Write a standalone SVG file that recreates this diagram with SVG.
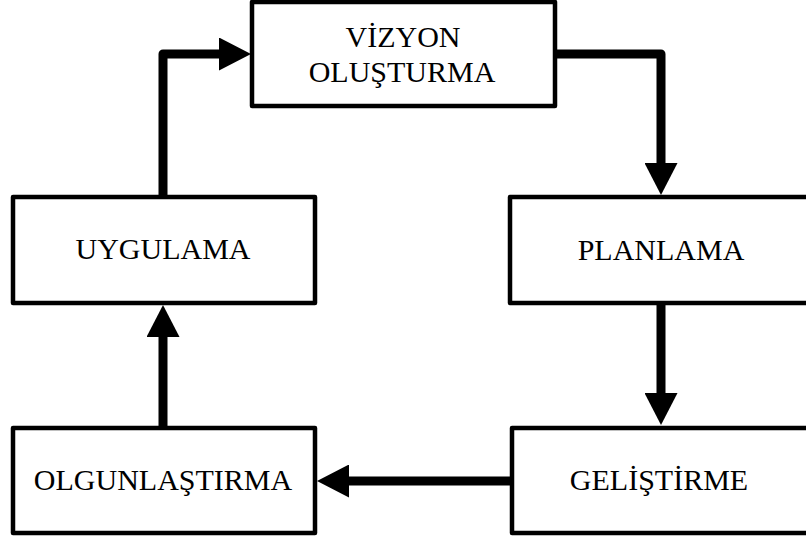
<svg xmlns="http://www.w3.org/2000/svg" width="806" height="539" viewBox="0 0 806 539">
  <style>
    .box { fill: #fff; stroke: #000; stroke-width: 4.5; stroke-linejoin: round; }
    .label { font-family: "Liberation Serif", "Times New Roman", serif; font-size: 30px; fill: #000; text-anchor: middle; }
    .flow { fill: none; stroke: #000; stroke-width: 9; stroke-linecap: round; stroke-linejoin: round; }
  </style>
  <defs>
    <marker id="head" viewBox="0 0 32 33" refX="0" refY="16.5" markerWidth="32" markerHeight="33" markerUnits="userSpaceOnUse" orient="auto">
      <path d="M0,0 L32,16.5 L0,33 Z" fill="#000"/>
    </marker>
  </defs>
  <rect width="806" height="539" fill="#fff"/>

  <g id="connectors">
    <path class="flow" d="M555,54 H661 V163" marker-end="url(#head)"/>
    <path class="flow" d="M661,303 V393" marker-end="url(#head)"/>
    <path class="flow" d="M512,481 H349" marker-end="url(#head)"/>
    <path class="flow" d="M163,428 V337" marker-end="url(#head)"/>
    <path class="flow" d="M163,197 V54 H219" marker-end="url(#head)"/>
  </g>

  <g id="vizyon">
    <rect class="box" x="252" y="2" width="303" height="104"/>
    <text class="label" x="403" y="47">VİZYON</text>
    <text class="label" x="402" y="82">OLUŞTURMA</text>
  </g>
  <g id="planlama">
    <rect class="box" x="510" y="197" width="302" height="106"/>
    <text class="label" x="661" y="260">PLANLAMA</text>
  </g>
  <g id="gelistirme">
    <rect class="box" x="512" y="428" width="302" height="105"/>
    <text class="label" x="659" y="490">GELİŞTİRME</text>
  </g>
  <g id="olgunlastirma">
    <rect class="box" x="13" y="428" width="302" height="105"/>
    <text class="label" x="163" y="490">OLGUNLAŞTIRMA</text>
  </g>
  <g id="uygulama">
    <rect class="box" x="13" y="197" width="302" height="106"/>
    <text class="label" x="163" y="259">UYGULAMA</text>
  </g>
</svg>
